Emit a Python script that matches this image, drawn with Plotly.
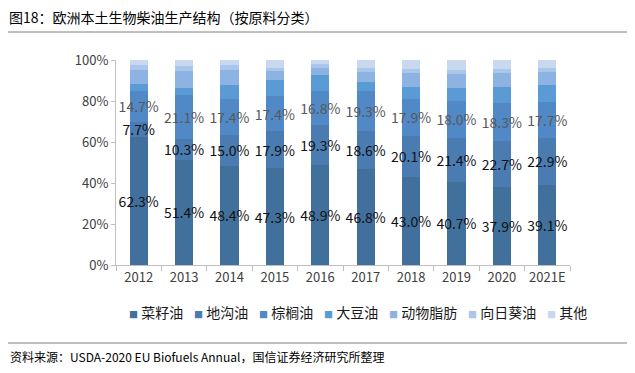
import plotly.graph_objects as go

years = ["2012", "2013", "2014", "2015", "2016", "2017", "2018", "2019", "2020", "2021E"]
rapeseed = [62.3, 51.4, 48.4, 47.3, 48.9, 46.8, 43.0, 40.7, 37.9, 39.1]
uco = [7.7, 10.3, 15.0, 17.9, 19.3, 18.6, 20.1, 21.4, 22.7, 22.9]
palm = [14.7, 21.1, 17.4, 17.4, 16.8, 19.3, 17.9, 18.0, 18.3, 17.7]
soy = [3.4, 3.7, 7.0, 7.6, 7.7, 4.7, 6.0, 6.1, 8.1, 8.1]
animal = [7.0, 8.1, 7.3, 4.6, 3.2, 4.9, 6.5, 6.8, 6.9, 6.5]
sunflower = [2.6, 2.6, 2.5, 1.5, 2.0, 1.6, 2.1, 2.1, 1.7, 1.6]
others = [2.3, 2.8, 2.4, 3.7, 2.1, 4.1, 4.4, 4.9, 4.4, 4.1]
y_ticks = [0, 20, 40, 60, 80, 100]
y_tick_labels = ["0%", "20%", "40%", "60%", "80%", "100%"]

series = [
    ("菜籽油", rapeseed, "#41709D", "#111111", True),
    ("地沟油", uco, "#4A7CB2", "#111111", True),
    ("棕榈油", palm, "#5089C6", "#595959", True),
    ("大豆油", soy, "#5B9BD5", None, False),
    ("动物脂肪", animal, "#8DB3E2", None, False),
    ("向日葵油", sunflower, "#AAC6EA", None, False),
    ("其他", others, "#C7D8EF", None, False),
]

FONT = "Noto Sans CJK SC"

# page has an 8px body margin; plot area target (screen px): x 116..570, y 60..265
PX0, PW, PY0, PH = 116, 454, 265, 205


def px(x):
    return (x - PX0) / PW


def py(y):
    return (PY0 - y) / PH


fig = go.Figure()
for name, vals, color, tcolor, show in series:
    kw = {}
    if show:
        kw = dict(
            text=[f"{v:.1f}%" for v in vals],
            textposition="inside",
            insidetextanchor="middle",
            textangle=0,
            constraintext="none",
            textfont=dict(family=FONT, size=14, color=tcolor),
        )
    fig.add_trace(go.Bar(name=name, x=years, y=vals, marker=dict(color=color, line=dict(width=0)),
                         showlegend=False, **kw))

# legend row (built as text items)
legend_x = [127, 192, 257, 322, 387, 466, 545]
annotations = []
for (name, vals, color, tcolor, show), lx in zip(series, legend_x):
    annotations.append(dict(
        text=f'<span style="color:{color};font-size:9px">■</span> {name}',
        xref="paper", yref="paper", x=px(lx), y=py(312), xanchor="left", yanchor="middle",
        showarrow=False, font=dict(family=FONT, size=14, color="#1a1a1a"),
    ))

annotations += [
    dict(text="图18：欧洲本土生物柴油生产结构（按原料分类）", xref="paper", yref="paper",
         x=px(7), y=py(17), xanchor="left", yanchor="middle", showarrow=False,
         font=dict(family=FONT, size=14, color="#000000")),
    dict(text="资料来源：USDA-2020 EU Biofuels Annual，国信证券经济研究所整理", xref="paper", yref="paper",
         x=px(8), y=py(356), xanchor="left", yanchor="middle", showarrow=False,
         font=dict(family=FONT, size=12, color="#000000")),
]

fig.update_layout(
    barmode="stack",
    bargap=0.6,
    width=619,
    height=357,
    margin=dict(l=108, r=57, t=52, b=100),
    paper_bgcolor="white",
    plot_bgcolor="white",
    font=dict(family=FONT, color="#404040", size=13),
    showlegend=False,
    xaxis=dict(
        showline=True,
        linecolor="#BFBFBF",
        ticks="outside",
        tickcolor="#BFBFBF",
        ticklen=5,
        tickson="boundaries",
        tickangle=0,
        showgrid=False,
        tickfont=dict(size=13, color="#404040"),
    ),
    yaxis=dict(
        range=[0, 100],
        tickmode="array",
        tickvals=y_ticks,
        ticktext=y_tick_labels,
        showline=True,
        linecolor="#BFBFBF",
        ticks="outside",
        tickcolor="#BFBFBF",
        ticklen=4,
        showgrid=False,
        zeroline=False,
        tickfont=dict(size=13, color="#404040"),
    ),
    shapes=[
        dict(type="line", xref="paper", yref="paper", x0=px(8), x1=px(627), y0=py(32), y1=py(32),
             line=dict(color="#808080", width=1)),
        dict(type="line", xref="paper", yref="paper", x0=px(8), x1=px(627), y0=py(343), y1=py(343),
             line=dict(color="#808080", width=1)),
    ],
    annotations=annotations,
)

fig.write_html("out.html")
